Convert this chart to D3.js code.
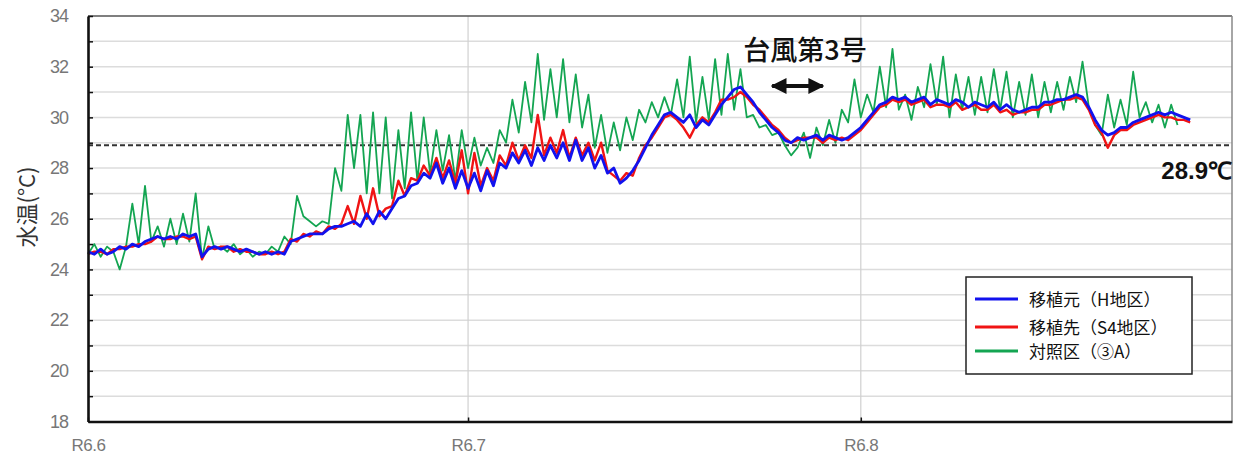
<!DOCTYPE html>
<html>
<head>
<meta charset="utf-8">
<script src="https://cdn.jsdelivr.net/npm/d3@7"></script>
<style>
  body { margin: 0; background: #fff; }
  svg { display: block; }
</style>
</head>
<body>
<div id="chart"></div>
<script>
"use strict";

// half-day samples, day 0 = R6.6.1
const STEP_DAYS = 0.5;

const seriesNames  = ["移植元（H地区）", "移植先（S4地区）", "対照区（③A）"];
const seriesColors = ["#1212ee", "#f01414", "#14a552"];

const hValues = [
  24.7, 24.6, 24.8, 24.6, 24.7, 24.9, 24.8, 25.0, 24.9, 25.1,
  25.2, 25.3, 25.2, 25.3, 25.2, 25.4, 25.3, 25.4, 24.5, 24.8,
  24.9, 24.8, 24.9, 24.8, 24.7, 24.8, 24.7, 24.6, 24.7, 24.6,
  24.7, 24.6, 25.1, 25.2, 25.3, 25.4, 25.4, 25.4, 25.6, 25.7,
  25.7, 25.8, 25.9, 25.7, 26.2, 25.8, 26.3, 26.0, 26.4, 26.8,
  26.9, 27.3, 27.4, 27.8, 27.6, 28.2, 27.4, 28.0, 27.2, 27.9,
  27.2, 27.8, 27.1, 27.9, 27.3, 28.2, 28.0, 28.6, 28.2, 28.7,
  28.1, 28.8, 28.3, 28.9, 28.4, 29.0, 28.3, 29.1, 28.3, 28.8,
  28.0, 28.5, 27.8, 28.0, 27.4, 27.6, 27.9, 28.3, 28.8, 29.3,
  29.7, 30.1, 30.2, 30.0, 29.8, 30.1, 29.6, 29.9, 29.7, 30.1,
  30.5, 30.8, 31.1, 31.2, 30.9, 30.6, 30.2, 29.9, 29.6, 29.4,
  29.1, 29.0, 29.2, 29.1, 29.2, 29.3, 29.1, 29.3, 29.2, 29.1,
  29.2, 29.4, 29.6, 29.9, 30.2, 30.5, 30.6, 30.8, 30.7, 30.8,
  30.6, 30.7, 30.8, 30.5, 30.7, 30.6, 30.5, 30.7, 30.6, 30.4,
  30.6, 30.5, 30.4, 30.6, 30.3, 30.5, 30.3, 30.2, 30.3, 30.4,
  30.4, 30.6, 30.6, 30.7, 30.7, 30.8, 30.9, 30.8, 30.4, 29.9,
  29.5, 29.3, 29.4, 29.6, 29.6, 29.8, 29.9, 30.0, 30.1, 30.2,
  30.1, 30.2, 30.1, 30.0, 29.9
];

const s4Values = [
  24.6, 24.7, 24.7, 24.6, 24.8, 24.8, 24.9, 24.9, 25.0, 25.0,
  25.1, 25.3, 25.2, 25.2, 25.3, 25.3, 25.2, 25.3, 24.4, 24.9,
  24.8, 24.9, 24.9, 24.7, 24.8, 24.7, 24.7, 24.6, 24.6, 24.7,
  24.6, 24.7, 25.2, 25.1, 25.4, 25.3, 25.5, 25.4, 25.7, 25.6,
  25.8, 26.5, 25.8, 26.9, 26.0, 27.2, 26.1, 26.4, 26.5, 27.5,
  26.9, 27.6, 27.5, 28.1, 27.7, 28.4, 27.6, 28.3, 27.4, 28.7,
  27.0, 28.6, 27.3, 28.0, 27.5, 28.5, 28.1, 29.0, 28.3, 28.9,
  28.4, 30.1, 28.5, 29.2, 28.6, 29.5, 28.4, 29.2, 28.5, 29.0,
  28.3, 29.0, 27.9, 27.7, 27.5, 27.8, 27.7, 28.4, 28.9, 29.2,
  29.6, 30.0, 30.1, 29.9, 29.6, 29.2, 29.7, 30.0, 29.8, 30.2,
  30.7, 30.7, 30.8, 31.0, 30.8, 30.5, 30.3, 30.0, 29.7, 29.5,
  29.2, 29.0, 29.1, 29.2, 29.2, 29.2, 29.0, 29.2, 29.1, 29.2,
  29.1, 29.3, 29.5, 29.8, 30.1, 30.4, 30.5, 30.7, 30.6, 30.7,
  30.5, 30.6, 30.7, 30.4, 30.5, 30.5, 30.4, 30.6, 30.3, 30.4,
  30.5, 30.3, 30.3, 30.5, 30.2, 30.3, 30.1, 30.2, 30.2, 30.3,
  30.3, 30.5, 30.5, 30.6, 30.7, 30.7, 30.8, 30.7, 30.3, 29.7,
  29.4, 28.8, 29.3, 29.5, 29.5, 29.7, 29.8, 29.9, 30.0, 30.1,
  30.0, 30.0, 29.9, 29.9, 29.8
];

const ctrlValues = [
  24.6, 25.0, 24.5, 24.9, 24.7, 24.0, 24.9, 26.6, 25.0, 27.3,
  25.1, 25.7, 24.9, 26.0, 25.0, 26.2, 25.1, 27.0, 24.4, 25.7,
  24.8, 24.9, 24.7, 25.0, 24.6, 24.8, 24.5, 24.7, 24.6, 24.9,
  24.7, 25.3, 25.0, 26.9, 26.1, 25.9, 25.7, 25.9, 25.8, 28.0,
  27.1, 30.1, 28.0, 30.1, 27.0, 30.2, 27.0, 30.0, 26.8, 29.5,
  27.2, 30.2, 27.5, 30.0, 27.8, 29.5, 27.9, 29.3, 27.5, 29.5,
  28.0, 29.2, 28.1, 28.8, 28.2, 29.5, 29.0, 30.7, 29.4, 31.4,
  29.8, 32.5, 29.9, 31.9, 30.0, 32.3, 29.8, 31.7, 29.6, 30.9,
  28.8, 30.1, 28.6, 29.8, 28.7, 30.0, 29.1, 30.3, 29.8, 30.6,
  30.0, 30.8, 30.1, 31.5, 30.0, 32.4, 29.8, 31.6, 29.9, 32.3,
  30.1, 32.5, 30.3, 31.9, 30.0, 30.1, 29.6, 29.7, 29.3, 29.4,
  28.9, 28.5, 28.8, 29.4, 28.4, 29.6, 28.9, 29.9, 29.0, 30.3,
  29.8, 31.5, 30.0, 30.9, 30.2, 32.0, 30.4, 32.7, 30.3, 30.9,
  29.9, 31.2, 30.4, 32.1, 30.5, 32.4, 30.0, 31.7, 30.3, 31.6,
  30.1, 31.6, 30.2, 31.9, 30.3, 31.8, 30.0, 31.4, 30.1, 31.7,
  30.0, 31.4, 30.2, 31.4, 30.3, 31.6, 30.6, 32.2, 30.4, 29.7,
  29.3, 30.9, 29.6, 30.7, 29.7, 31.8, 30.0, 30.6, 29.8, 30.5,
  29.6, 30.5, 29.7
];

const xTickDays   = [0, 30, 61];
const xTickLabels = ["R6.6", "R6.7", "R6.8"];
const yMin = 18, yMax = 34;
const thresholdValue = 28.9;
const typhoonLabel = "台風第3号";
const typhoonDays = [54.0, 58.0];

// ---- layout
const W = 1235, H = 455;
const plot = { left: 88, right: 1232, top: 16, bottom: 421.5 };

const x = d3.scaleLinear().domain([0, 90.3]).range([plot.left, plot.right]);
const y = d3.scaleLinear().domain([yMin, yMax]).range([plot.bottom, plot.top]);

const svg = d3.select("#chart").append("svg")
  .attr("width", W).attr("height", H);

const tickFont = "'Liberation Sans', Arial, sans-serif";
const jpFont = "'Noto Sans CJK JP', 'Noto Sans', sans-serif";

// Horizontal gridlines every 1 degree
const yGrid = d3.range(yMin + 1, yMax, 1);
svg.append("g").selectAll("line").data(yGrid).join("line")
  .attr("x1", plot.left).attr("x2", plot.right)
  .attr("y1", d => y(d)).attr("y2", d => y(d))
  .attr("stroke", "#dcdcdc").attr("stroke-width", 1.5);

// Vertical gridlines at month starts
svg.append("g").selectAll("line").data(xTickDays.slice(1)).join("line")
  .attr("x1", d => x(d)).attr("x2", d => x(d))
  .attr("y1", plot.top).attr("y2", plot.bottom)
  .attr("stroke", "#d0d0d0").attr("stroke-width", 1.2);

// Threshold dashed line
svg.append("line")
  .attr("x1", plot.left).attr("x2", plot.right)
  .attr("y1", y(thresholdValue)).attr("y2", y(thresholdValue))
  .attr("stroke", "#333").attr("stroke-width", 2)
  .attr("stroke-dasharray", "5,3");

// Series
const line = d3.line()
  .x((d, i) => x(i * STEP_DAYS))
  .y(d => y(d));

const series = [ctrlValues, s4Values, hValues];
const drawColors = [seriesColors[2], seriesColors[1], seriesColors[0]];
const widths = [1.8, 2.4, 2.8];
series.forEach((vals, k) => {
  svg.append("path")
    .datum(vals)
    .attr("fill", "none")
    .attr("stroke", drawColors[k])
    .attr("stroke-width", widths[k])
    .attr("stroke-linejoin", "round")
    .attr("d", line);
});

// Frame: top & right thin, left & bottom thick
svg.append("line").attr("x1", plot.left).attr("x2", plot.right)
  .attr("y1", plot.top).attr("y2", plot.top)
  .attr("stroke", "#555").attr("stroke-width", 1.5);
svg.append("line").attr("x1", plot.right).attr("x2", plot.right)
  .attr("y1", plot.top).attr("y2", plot.bottom)
  .attr("stroke", "#888").attr("stroke-width", 1.5);

// Y axis
const yAxis = d3.axisLeft(y)
  .tickValues(d3.range(yMin, yMax + 1, 1))
  .tickSizeInner(-5).tickSizeOuter(0).tickPadding(20)
  .tickFormat(d => d % 2 === 0 ? d : "");
const gy = svg.append("g").attr("transform", `translate(${plot.left},0)`).call(yAxis);
gy.select(".domain").attr("stroke", "#111").attr("stroke-width", 2.6);
gy.selectAll(".tick line").attr("stroke", "#111").attr("stroke-width", 1.5);
gy.selectAll(".tick text")
  .attr("font-family", tickFont).attr("font-size", 18)
  .attr("fill", "#777").attr("letter-spacing", -1);

// X axis
const xAxis = d3.axisBottom(x)
  .tickValues(xTickDays)
  .tickSizeInner(-4).tickSizeOuter(0).tickPadding(17)
  .tickFormat((d, i) => xTickLabels[i]);
const gx = svg.append("g").attr("transform", `translate(0,${plot.bottom})`).call(xAxis);
gx.select(".domain").attr("stroke", "#111").attr("stroke-width", 2.6);
gx.selectAll(".tick line").attr("stroke", "#111").attr("stroke-width", 1.5);
gx.selectAll(".tick text")
  .attr("font-family", tickFont).attr("font-size", 17)
  .attr("fill", "#777").attr("letter-spacing", -0.5);

// Y axis title
svg.append("text")
  .attr("transform", `translate(35,207) rotate(-90)`)
  .attr("text-anchor", "middle")
  .attr("font-family", jpFont).attr("font-size", 22)
  .attr("fill", "#333")
  .text("水温(°C)");

// Threshold label
svg.append("text")
  .attr("x", plot.right).attr("y", 179)
  .attr("text-anchor", "end")
  .attr("font-family", "'Liberation Sans', Arial, sans-serif")
  .attr("font-size", 24).attr("font-weight", "700")
  .attr("fill", "#111")
  .text(thresholdValue + "℃");

// Typhoon annotation
svg.append("text")
  .attr("x", 805).attr("y", 60)
  .attr("text-anchor", "middle")
  .attr("font-family", jpFont).attr("font-size", 27).attr("font-weight", "500")
  .attr("fill", "#111")
  .text(typhoonLabel);

const defs = svg.append("defs");
defs.append("marker")
  .attr("id", "ah").attr("viewBox", "0 0 10 10")
  .attr("refX", 9).attr("refY", 5)
  .attr("markerWidth", 4).attr("markerHeight", 4.2)
  .attr("markerUnits", "strokeWidth")
  .attr("orient", "auto-start-reverse")
  .append("path").attr("d", "M0,0 L10,5 L0,10 Z").attr("fill", "#111");

svg.append("line")
  .attr("x1", x(typhoonDays[0])).attr("x2", x(typhoonDays[1]))
  .attr("y1", 86).attr("y2", 86)
  .attr("stroke", "#111").attr("stroke-width", 4)
  .attr("marker-start", "url(#ah)").attr("marker-end", "url(#ah)");

// Legend
const lg = svg.append("g").attr("transform", "translate(966,277)");
lg.append("rect")
  .attr("width", 226).attr("height", 97)
  .attr("fill", "#fff").attr("stroke", "#222").attr("stroke-width", 1.5);
const rowY = [22, 50, 74];
seriesNames.forEach((name, i) => {
  lg.append("line")
    .attr("x1", 9).attr("x2", 52)
    .attr("y1", rowY[i]).attr("y2", rowY[i])
    .attr("stroke", seriesColors[i]).attr("stroke-width", 3);
  lg.append("text")
    .attr("x", 63).attr("y", rowY[i] + 7)
    .attr("font-family", jpFont).attr("font-size", 17)
    .attr("fill", "#111")
    .text(name);
});
</script>
</body>
</html>
